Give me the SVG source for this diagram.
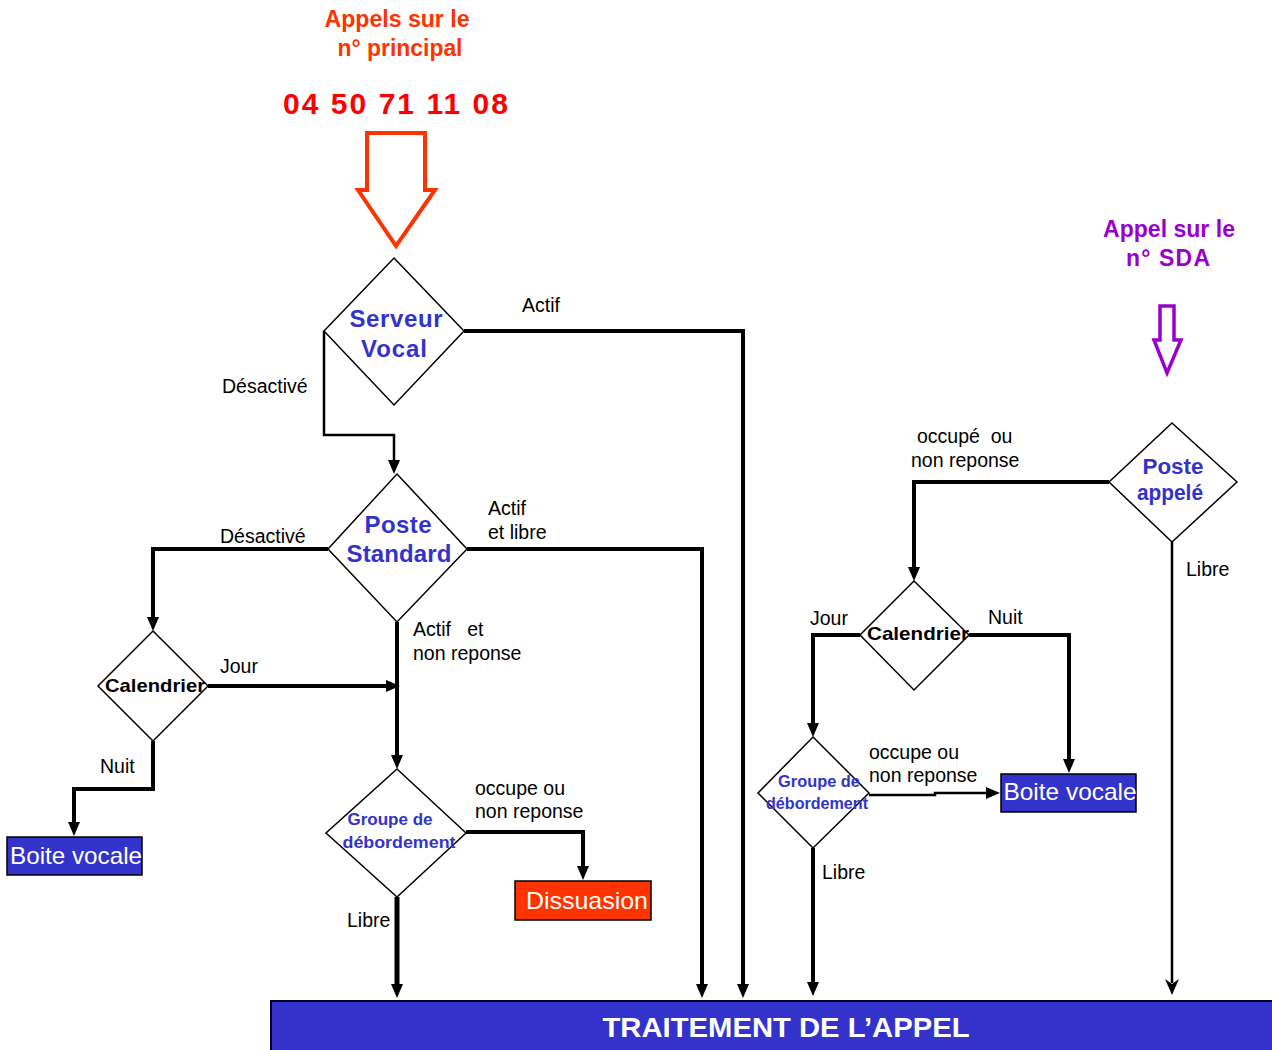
<svg xmlns="http://www.w3.org/2000/svg" width="1272" height="1050" viewBox="0 0 1272 1050">
<style>
text{font-family:"Liberation Sans",Arial,sans-serif}
.lbl{font-size:19.5px;fill:#000}
.dia{fill:#fff;stroke:#000;stroke-width:1.5}
.dt{font-weight:bold;fill:#3333CC;text-anchor:middle}
.cal{font-weight:bold;fill:#000;font-size:19px;text-anchor:middle}
.box{fill:#3333CC;stroke:#000;stroke-width:1.5}
.bt{fill:#fff;font-size:24px;text-anchor:middle}
.c{fill:none;stroke:#000;stroke-linejoin:miter}
.w4{stroke-width:4}
.w3{stroke-width:2.5}
.w5{stroke-width:5}
</style>
<defs>
<marker id="ah" markerUnits="userSpaceOnUse" markerWidth="14" markerHeight="12" refX="2" refY="6" orient="auto">
<path d="M0,0 L14,6 L0,12 z" fill="#000"/>
</marker>
<marker id="ahv" markerUnits="userSpaceOnUse" markerWidth="16" markerHeight="14" refX="4" refY="7" orient="auto">
<path d="M0,0 L16,7 L0,14 L5,7 z" fill="#000"/>
</marker>
</defs>

<g id="title-main">
<text x="397" y="27" font-size="23" font-weight="bold" fill="#FF3300" text-anchor="middle" textLength="145" lengthAdjust="spacingAndGlyphs">Appels sur le</text>
<text x="400" y="56" font-size="23" font-weight="bold" fill="#FF3300" text-anchor="middle" textLength="125" lengthAdjust="spacingAndGlyphs">n° principal</text>
<text x="283" y="114" font-size="30" font-weight="bold" fill="#FF0000" textLength="225" lengthAdjust="spacing">04 50 71 11 08</text>
<polygon points="367,133 425,133 425,190 435,190 396,246 358,190 367,190" fill="none" stroke="#FF3300" stroke-width="4"/>
</g>

<g id="title-sda">
<text x="1169" y="237" font-size="23" font-weight="bold" fill="#9900CC" text-anchor="middle" textLength="132" lengthAdjust="spacingAndGlyphs">Appel sur le</text>
<text x="1168" y="266" font-size="23" font-weight="bold" fill="#9900CC" text-anchor="middle" textLength="84" lengthAdjust="spacing">n° SDA</text>
<polygon points="1160,306 1174,306 1174,340 1181,340 1167,373 1154,340 1160,340" fill="none" stroke="#9900CC" stroke-width="3.5"/>
</g>

<g id="connectors">
<path class="c w4" d="M464,331 H743 V986" marker-end="url(#ah)"/>
<path class="c w3" d="M324,331 V435 H394 V462" marker-end="url(#ah)"/>
<path class="c w4" d="M328,549 H153 V619" marker-end="url(#ah)"/>
<path class="c w4" d="M467,549 H702 V986" marker-end="url(#ah)"/>
<path class="c w4" d="M397,622 V757" marker-end="url(#ah)"/>
<path class="c w4" d="M208,686 H388" marker-end="url(#ah)"/>
<path class="c w4" d="M153,741 V789 H74 V824" marker-end="url(#ah)"/>
<path class="c w4" d="M466,832 H583 V868" marker-end="url(#ah)"/>
<path class="c w5" d="M397,897 V986" marker-end="url(#ah)"/>
<path class="c w4" d="M1109,482 H914 V569" marker-end="url(#ah)"/>
<path class="c w3" d="M1172,542 V983" marker-end="url(#ahv)"/>
<path class="c w4" d="M860,635 H813 V725" marker-end="url(#ah)"/>
<path class="c w4" d="M969,635 H1069 V761" marker-end="url(#ah)"/>
<path class="c w3" d="M869,795 H935 V793 H988" marker-end="url(#ah)"/>
<path class="c w4" d="M813,848 V984" marker-end="url(#ah)"/>
</g>

<g id="labels">
<text class="lbl" x="522" y="312">Actif</text>
<text class="lbl" x="222" y="393">Désactivé</text>
<text class="lbl" x="488" y="515">Actif</text>
<text class="lbl" x="488" y="539">et libre</text>
<text class="lbl" x="220" y="543">Désactivé</text>
<text class="lbl" x="413" y="636" xml:space="preserve">Actif   et</text>
<text class="lbl" x="413" y="660">non reponse</text>
<text class="lbl" x="220" y="673">Jour</text>
<text class="lbl" x="100" y="773">Nuit</text>
<text class="lbl" x="475" y="795">occupe ou</text>
<text class="lbl" x="475" y="818">non reponse</text>
<text class="lbl" x="347" y="927">Libre</text>
<text class="lbl" x="917" y="443" xml:space="preserve">occupé  ou</text>
<text class="lbl" x="911" y="467">non reponse</text>
<text class="lbl" x="1186" y="576">Libre</text>
<text class="lbl" x="810" y="625">Jour</text>
<text class="lbl" x="988" y="624">Nuit</text>
<text class="lbl" x="869" y="759">occupe ou</text>
<text class="lbl" x="869" y="782">non reponse</text>
<text class="lbl" x="822" y="879">Libre</text>
</g>

<g id="serveur-vocal">
<polygon class="dia" points="394,258 464,331 394,405 324,331"/>
<text class="dt" x="396" y="327" font-size="24" textLength="93" lengthAdjust="spacing">Serveur</text>
<text class="dt" x="394" y="357" font-size="24" textLength="66" lengthAdjust="spacing">Vocal</text>
</g>

<g id="poste-standard">
<polygon class="dia" points="397,474 467,549 397,622 328,549"/>
<text class="dt" x="398" y="533" font-size="24" textLength="67" lengthAdjust="spacing">Poste</text>
<text class="dt" x="399" y="562" font-size="24" textLength="105" lengthAdjust="spacing">Standard</text>
</g>

<g id="calendrier-gauche">
<polygon class="dia" points="153,631 208,686 153,741 98,686"/>
<text class="cal" x="155" y="692" textLength="100" lengthAdjust="spacingAndGlyphs">Calendrier</text>
</g>

<g id="boite-vocale-gauche">
<rect class="box" x="7" y="837" width="135" height="38"/>
<text class="bt" x="76" y="864" textLength="132" lengthAdjust="spacingAndGlyphs">Boite vocale</text>
</g>

<g id="groupe-debordement-gauche">
<polygon class="dia" points="397,769 466,833 397,897 326,833"/>
<text class="dt" x="390" y="825" font-size="17" textLength="85" lengthAdjust="spacingAndGlyphs">Groupe de</text>
<text class="dt" x="399" y="848" font-size="17" textLength="113" lengthAdjust="spacingAndGlyphs">débordement</text>
</g>

<g id="dissuasion">
<rect x="515" y="881" width="136" height="39" fill="#FF3300" stroke="#000" stroke-width="1.5"/>
<text class="bt" x="587" y="909" textLength="122" lengthAdjust="spacingAndGlyphs">Dissuasion</text>
</g>

<g id="poste-appele">
<polygon class="dia" points="1172,423 1237,482 1172,542 1109,482"/>
<text class="dt" x="1173" y="474" font-size="22" textLength="61" lengthAdjust="spacingAndGlyphs">Poste</text>
<text class="dt" x="1170" y="500" font-size="22" textLength="66" lengthAdjust="spacingAndGlyphs">appelé</text>
</g>

<g id="calendrier-droite">
<polygon class="dia" points="914,581 969,635 914,690 860,635"/>
<text class="cal" x="918" y="640" textLength="102" lengthAdjust="spacingAndGlyphs">Calendrier</text>
</g>

<g id="groupe-debordement-droite">
<polygon class="dia" points="813,737 869,793 813,848 758,793"/>
<text class="dt" x="819" y="787" font-size="16" textLength="82" lengthAdjust="spacingAndGlyphs">Groupe de</text>
<text class="dt" x="817" y="809" font-size="16" textLength="102" lengthAdjust="spacingAndGlyphs">débordement</text>
</g>

<g id="boite-vocale-droite">
<rect class="box" x="1001" y="774" width="135" height="38"/>
<text class="bt" x="1070" y="800" textLength="133" lengthAdjust="spacingAndGlyphs">Boite vocale</text>
</g>

<g id="traitement">
<rect x="271" y="1001" width="1003" height="52" fill="#3333CC" stroke="#000033" stroke-width="2"/>
<text x="786" y="1037" font-size="28" font-weight="bold" fill="#fff" text-anchor="middle" textLength="367" lengthAdjust="spacingAndGlyphs">TRAITEMENT DE L’APPEL</text>
</g>
</svg>
